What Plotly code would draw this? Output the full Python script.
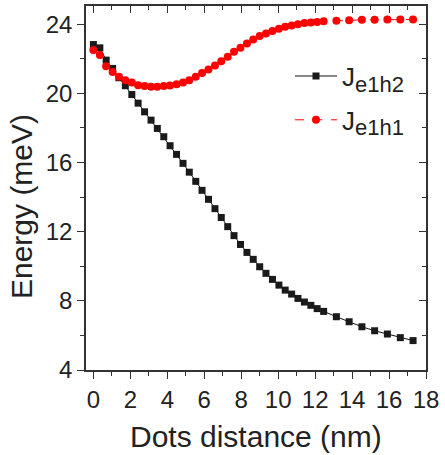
import plotly.graph_objects as go

# Data
dist_nm = [0, 0.35, 0.69, 1.04, 1.38, 1.73, 2.08, 2.42, 2.77, 3.12, 3.46, 3.81,
           4.15, 4.5, 4.85, 5.19, 5.54, 5.88, 6.23, 6.58, 6.92, 7.27, 7.61, 7.96,
           8.31, 8.65, 9.0, 9.34, 9.69, 10.04, 10.38, 10.73, 11.07, 11.42, 11.77,
           12.11, 12.46, 13.15, 13.84, 14.53, 15.22, 15.91, 16.61, 17.3]
j_e1h2 = [22.82, 22.63, 21.92, 21.44, 20.9, 20.44, 19.93, 19.43, 18.93, 18.45,
          17.97, 17.49, 16.97, 16.47, 15.95, 15.44, 14.91, 14.39, 13.87, 13.33,
          12.82, 12.29, 11.77, 11.26, 10.80, 10.40, 9.97, 9.59, 9.24, 8.91,
          8.62, 8.39, 8.14, 7.93, 7.74, 7.55, 7.39, 7.08, 6.79, 6.50, 6.27,
          6.08, 5.87, 5.70]
j_e1h1 = [22.50, 22.21, 21.57, 21.24, 20.96, 20.76, 20.63, 20.47, 20.42, 20.38,
          20.38, 20.42, 20.45, 20.53, 20.63, 20.76, 20.96, 21.17, 21.38, 21.61,
          21.86, 22.11, 22.40, 22.63, 22.88, 23.11, 23.31, 23.46, 23.60, 23.73,
          23.85, 23.92, 24.0, 24.06, 24.10, 24.13, 24.17, 24.19, 24.23, 24.25,
          24.25, 24.27, 24.27, 24.27]
x_ticks = list(range(0, 19, 2))
y_ticks = list(range(4, 25, 4))

FONT = "Liberation Sans, Arial, sans-serif"
AX = "#333333"
TXT = "#222222"
XR = [-0.4, 18]
YR = [4, 25.05]
SUB = "<sub><span style='font-size:22px'>{}</span></sub>"

fig = go.Figure()
fig.add_trace(go.Scatter(
    x=dist_nm, y=j_e1h2, mode="lines+markers", name="J" + SUB.format("e1h2"),
    legendgroup="a",
    line=dict(color="#111111", width=1),
    marker=dict(symbol="square", size=7, color="#1a1a1a")))
fig.add_trace(go.Scatter(
    x=dist_nm, y=j_e1h1, mode="lines+markers", name="J" + SUB.format("e1h1"),
    legendgroup="b",
    line=dict(color="#ff0000", width=1, dash="dash"),
    marker=dict(symbol="circle", size=8, color="#ff0000")))

common = dict(showgrid=False, zeroline=False, showline=True, linecolor=AX,
              linewidth=1.5, tickcolor=AX, tickwidth=1.2)
fig.update_layout(
    width=445, height=455,
    margin=dict(l=86, r=13, t=6, b=85),
    paper_bgcolor="white", plot_bgcolor="white",
    font=dict(family=FONT, color=TXT),
    showlegend=True,
    legend=dict(x=0.6, y=0.872, xanchor="left", yanchor="top",
                itemwidth=42,
                bgcolor="rgba(0,0,0,0)", font=dict(size=26, family=FONT, color=TXT),
                tracegroupgap=7),
    xaxis=dict(range=XR, tickvals=x_ticks, ticks="outside", ticklen=7,
               ticklabeloverflow="allow",
               tickfont=dict(size=24, family=FONT, color=TXT),
               minor=dict(dtick=1, tick0=0, ticks="outside", ticklen=4, tickcolor=AX),
               **common),
    yaxis=dict(range=YR, tickvals=y_ticks, ticks="outside", ticklen=7,
               ticklabeloverflow="allow",
               tickfont=dict(size=24, family=FONT, color=TXT),
               minor=dict(dtick=2, tick0=0, ticks="outside", ticklen=4, tickcolor=AX),
               **common),
    xaxis2=dict(range=XR, overlaying="x", side="top", anchor="y",
                tickvals=x_ticks, ticks="inside", ticklen=7, showticklabels=False,
                minor=dict(dtick=1, tick0=0, ticks="inside", ticklen=4, tickcolor=AX),
                **common),
    yaxis2=dict(range=YR, overlaying="y", side="right", anchor="x",
                tickvals=y_ticks, ticks="inside", ticklen=7, showticklabels=False,
                minor=dict(dtick=2, tick0=0, ticks="inside", ticklen=4, tickcolor=AX),
                **common),
    annotations=[
        dict(text="Dots distance (nm)", xref="paper", yref="paper",
             x=0.5, y=-0.182, xanchor="center", yanchor="middle", showarrow=False,
             font=dict(size=30, family=FONT, color=TXT)),
        dict(text="Energy (meV)", xref="paper", yref="paper", textangle=-90,
             x=-0.188, y=0.448, xanchor="center", yanchor="middle", showarrow=False,
             font=dict(size=30, family=FONT, color=TXT)),
    ],
)
# invisible trace so the mirrored (top/right) axes are drawn
fig.add_trace(go.Scatter(x=[None], y=[None], xaxis="x2", yaxis="y2",
                         showlegend=False, hoverinfo="skip"))
fig.write_html("out.html")
